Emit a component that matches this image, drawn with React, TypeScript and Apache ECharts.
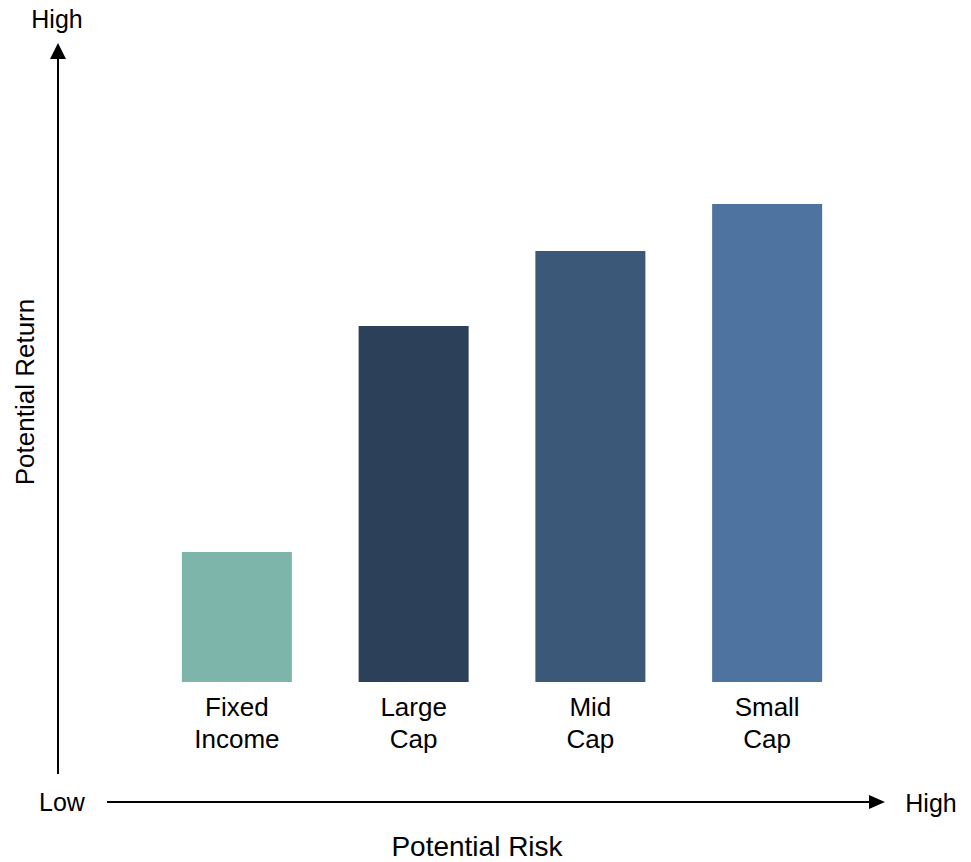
import React, { useEffect, useRef } from "react";
import * as echarts from "echarts";

const categories = ["Fixed\nIncome", "Large\nCap", "Mid\nCap", "Small\nCap"];
const returnValues = [130, 356, 431, 478];
const barColors = ["#7EB5AA", "#2C4159", "#3C5878", "#4E73A0"];
const axisTexts = { yHigh: "High", low: "Low", xHigh: "High", xTitle: "Potential Risk", yTitle: "Potential Return" };

const FONT = "'Liberation Sans', Arial, Helvetica, sans-serif";

export default function App() {
  const ref = useRef<HTMLDivElement>(null);
  useEffect(() => {
    if (!ref.current) return;
    const chart = echarts.init(ref.current, null, { renderer: "svg" });
    const textEl = (text: string, x: number, y: number, fs: number, extra: any = {}) => ({
      type: "text",
      x,
      y,
      ...extra,
      style: {
        text,
        fill: "#000",
        font: `${fs}px ${FONT}`,
        textAlign: "center",
        textVerticalAlign: "middle",
      },
    });
    chart.setOption({
      animation: false,
      backgroundColor: "#fff",
      grid: { left: 148.5, top: 182, width: 707, height: 500 },
      xAxis: {
        type: "category",
        data: categories,
        axisLine: { show: false },
        axisTick: { show: false },
        axisLabel: {
          color: "#000",
          fontFamily: FONT,
          fontSize: 26,
          lineHeight: 32,
          margin: 9,
          interval: 0,
        },
      },
      yAxis: { type: "value", min: 0, max: 500, show: false, splitLine: { show: false } },
      series: [
        {
          type: "bar",
          barWidth: 110,
          data: returnValues.map((v, i) => ({ value: v, itemStyle: { color: barColors[i] } })),
        },
      ],
      graphic: [
        { type: "line", shape: { x1: 58, y1: 774, x2: 58, y2: 56 }, style: { stroke: "#000", lineWidth: 2 } },
        { type: "polygon", shape: { points: [[58, 43], [50, 59], [66, 59]] }, style: { fill: "#000" } },
        { type: "line", shape: { x1: 107, y1: 802, x2: 872, y2: 802 }, style: { stroke: "#000", lineWidth: 2 } },
        { type: "polygon", shape: { points: [[885, 802], [869, 795], [869, 809]] }, style: { fill: "#000" } },
        textEl(axisTexts.yHigh, 57, 19, 25),
        textEl(axisTexts.low, 62, 802, 25),
        textEl(axisTexts.xHigh, 931, 803, 25),
        textEl(axisTexts.xTitle, 477, 846, 28),
        textEl(axisTexts.yTitle, 25, 392, 26, { rotation: Math.PI / 2 }),
      ],
    });
    return () => chart.dispose();
  }, []);
  return <div ref={ref} style={{ width: 971, height: 862, position: "absolute", left: 0, top: 0 }} />;
}
